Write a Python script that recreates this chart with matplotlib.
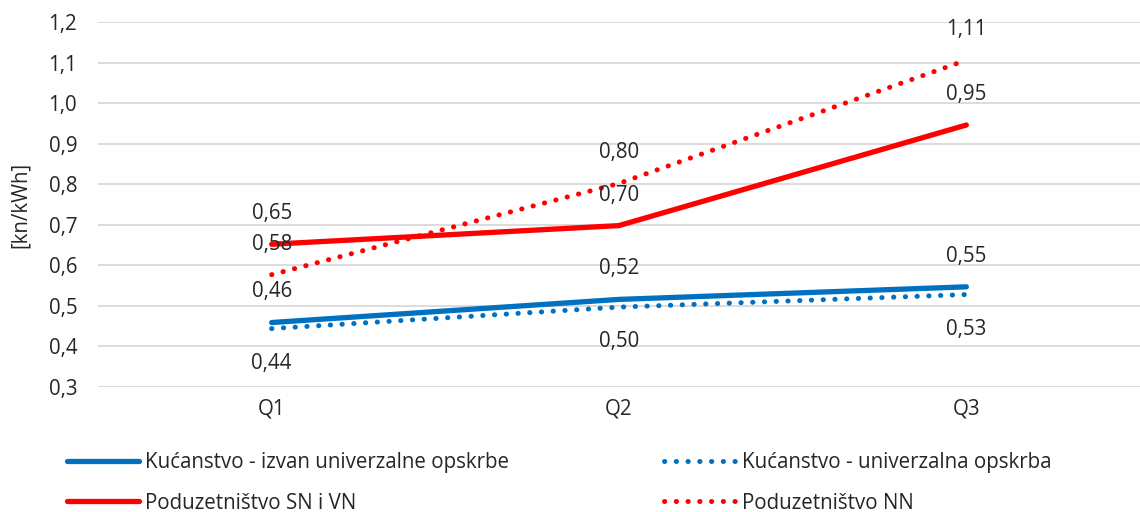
import matplotlib
matplotlib.use("Agg")
import matplotlib.pyplot as plt

plt.rcParams['font.family'] = ['Open Sans', 'DejaVu Sans']

categories = ["Q1", "Q2", "Q3"]
kucanstvo_izvan = [0.459, 0.516, 0.547]
kucanstvo_univ = [0.444, 0.497, 0.528]
poduz_sn_vn = [0.652, 0.698, 0.946]
poduz_nn = [0.577, 0.802, 1.106]
series_names = ["Kućanstvo - izvan univerzalne opskrbe",
                "Kućanstvo - univerzalna opskrba",
                "Poduzetništvo SN i VN",
                "Poduzetništvo NN"]
y_ticks = [0.3, 0.4, 0.5, 0.6, 0.7, 0.8, 0.9, 1.0, 1.1, 1.2]

BLUE = "#0070C0"
RED = "#FF0000"
TXT = "#262626"
FS = 14.8

fig = plt.figure(figsize=(11.4, 5.12), dpi=100)
ax = fig.add_axes([98/1140, 1-387/512, 1-98/1140, (387-22)/512])

x = list(range(len(categories)))
dot = (0, (0.05, 2.3))
styles = [
    (kucanstvo_izvan, BLUE, '-', 3.8, 'above'),
    (kucanstvo_univ, BLUE, dot, 3.6, 'below'),
    (poduz_sn_vn, RED, '-', 3.8, 'above'),
    (poduz_nn, RED, dot, 3.6, 'above'),
]
handles = []
for (vals, col, ls, lw, pos), name in zip(styles, series_names):
    ln, = ax.plot(x, vals, color=col, linestyle=ls, lw=lw,
                  solid_capstyle='round', dash_capstyle='round', label=name, zorder=3)
    handles.append(ln)
    for xi, v in zip(x, vals):
        off = 22 if pos == 'above' else -25
        ax.annotate(f"{v:.2f}".replace('.', ','), (xi, v), xytext=(0, off),
                    textcoords='offset points', ha='center', va='center',
                    fontsize=FS, color=TXT, zorder=4)

ax.set_xlim(-0.5, 2.5)
ax.set_ylim(0.3, 1.2)
ax.set_yticks(y_ticks)
ax.set_yticklabels([f"{t:.1f}".replace('.', ',') for t in y_ticks])
ax.set_xticks(x)
ax.set_xticklabels(categories)
ax.tick_params(axis='both', length=0, labelsize=FS, labelcolor=TXT)
ax.tick_params(axis='y', pad=15)
ax.tick_params(axis='x', pad=8)
ax.grid(axis='y', color='#D9D9D9', lw=1.3)
ax.set_axisbelow(True)
for s in ax.spines.values():
    s.set_visible(False)
fig.text(20/1140, 1-205/512, "[kn/kWh]", rotation=90, ha='center', va='center',
         fontsize=FS, color=TXT)

leg_kw = dict(frameon=False, fontsize=FS, handlelength=3.5, handletextpad=0.3,
              labelspacing=0.95, borderpad=0, borderaxespad=0, labelcolor=TXT)
l1 = fig.legend([handles[0], handles[2]], [series_names[0], series_names[2]],
                loc='upper left', bbox_to_anchor=(67/1140, 1-452/512), **leg_kw)
l2 = fig.legend([handles[1], handles[3]], [series_names[1], series_names[3]],
                loc='upper left', bbox_to_anchor=(664/1140, 1-452/512), **leg_kw)

fig.savefig("out.png", dpi=100)
